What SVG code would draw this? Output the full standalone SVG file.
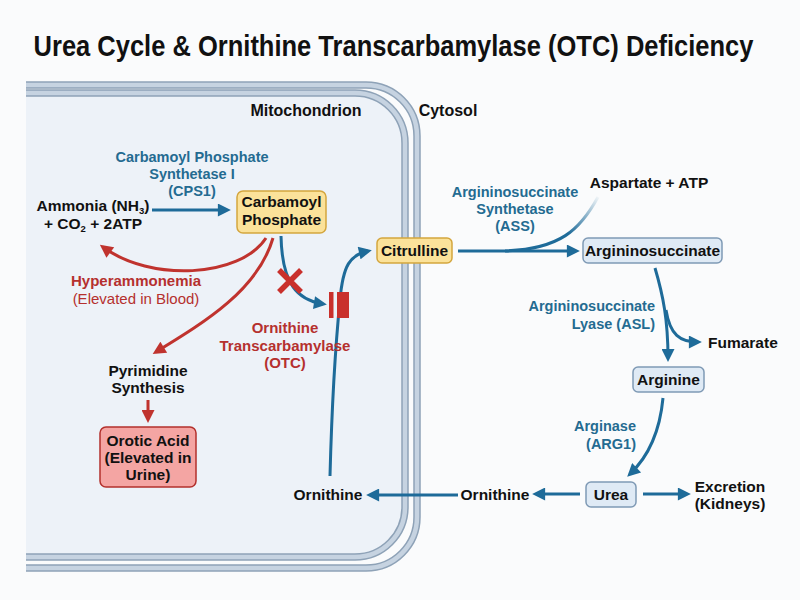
<svg xmlns="http://www.w3.org/2000/svg" width="800" height="600" viewBox="0 0 800 600">
<defs>
<style>
text{font-family:"Liberation Sans",Arial,sans-serif;font-weight:bold;fill:#111;}
.t{font-size:15.5px;text-anchor:middle;}
.enz{font-size:14.5px;fill:#246b91;text-anchor:middle;}
.red{font-size:15px;fill:#b5302e;text-anchor:middle;}
.yel{fill:#fbe29a;stroke:#d4a63e;stroke-width:1.5;}
.blu{fill:#dfeaf5;stroke:#7f9ab5;stroke-width:1.5;}
.pink{fill:#f4a5a3;stroke:#b3302c;stroke-width:1.5;}
.ab{fill:none;stroke:#1e6b99;stroke-width:3;marker-end:url(#mb);}
.ar{fill:none;stroke:#c0332e;stroke-width:3;marker-end:url(#mr);}
</style>
<marker id="mb" viewBox="0 0 10 10" refX="7" refY="5" markerWidth="15" markerHeight="13" markerUnits="userSpaceOnUse" orient="auto"><path d="M0,0 L10,5 L0,10 z" fill="#1e6b99"/></marker>
<marker id="mr" viewBox="0 0 10 10" refX="7" refY="5" markerWidth="15" markerHeight="13" markerUnits="userSpaceOnUse" orient="auto"><path d="M0,0 L10,5 L0,10 z" fill="#c0332e"/></marker>
<linearGradient id="g1" gradientUnits="userSpaceOnUse" x1="152" y1="0" x2="195" y2="0"><stop offset="0" stop-color="#1e6b99" stop-opacity="0"/><stop offset="1" stop-color="#1e6b99"/></linearGradient>
<linearGradient id="g2" gradientUnits="userSpaceOnUse" x1="266" y1="238" x2="215" y2="265"><stop offset="0" stop-color="#c0332e" stop-opacity="0.05"/><stop offset="1" stop-color="#c0332e"/></linearGradient>
<linearGradient id="g3" gradientUnits="userSpaceOnUse" x1="0" y1="238" x2="0" y2="290"><stop offset="0" stop-color="#c0332e" stop-opacity="0.05"/><stop offset="1" stop-color="#c0332e"/></linearGradient>
<linearGradient id="g4" gradientUnits="userSpaceOnUse" x1="0" y1="236" x2="0" y2="262"><stop offset="0" stop-color="#1e6b99" stop-opacity="0.1"/><stop offset="1" stop-color="#1e6b99"/></linearGradient>
<linearGradient id="g5" gradientUnits="userSpaceOnUse" x1="0" y1="476" x2="0" y2="420"><stop offset="0" stop-color="#1e6b99" stop-opacity="0.05"/><stop offset="1" stop-color="#1e6b99"/></linearGradient>
<linearGradient id="g6" gradientUnits="userSpaceOnUse" x1="458" y1="0" x2="505" y2="0"><stop offset="0" stop-color="#1e6b99" stop-opacity="0.05"/><stop offset="1" stop-color="#1e6b99"/></linearGradient>
<linearGradient id="g7" gradientUnits="userSpaceOnUse" x1="598" y1="197" x2="570" y2="235"><stop offset="0" stop-color="#1e6b99" stop-opacity="0.05"/><stop offset="1" stop-color="#1e6b99"/></linearGradient>
<linearGradient id="g8" gradientUnits="userSpaceOnUse" x1="0" y1="268" x2="0" y2="295"><stop offset="0" stop-color="#1e6b99" stop-opacity="0.1"/><stop offset="1" stop-color="#1e6b99"/></linearGradient>
<linearGradient id="g9" gradientUnits="userSpaceOnUse" x1="0" y1="398" x2="0" y2="430"><stop offset="0" stop-color="#1e6b99" stop-opacity="0.05"/><stop offset="1" stop-color="#1e6b99"/></linearGradient>
<linearGradient id="g10" gradientUnits="userSpaceOnUse" x1="643" y1="0" x2="672" y2="0"><stop offset="0" stop-color="#1e6b99" stop-opacity="0.1"/><stop offset="1" stop-color="#1e6b99"/></linearGradient>
<linearGradient id="g11" gradientUnits="userSpaceOnUse" x1="580" y1="0" x2="552" y2="0"><stop offset="0" stop-color="#1e6b99" stop-opacity="0.1"/><stop offset="1" stop-color="#1e6b99"/></linearGradient>
<linearGradient id="g12" gradientUnits="userSpaceOnUse" x1="458" y1="0" x2="400" y2="0"><stop offset="0" stop-color="#1e6b99" stop-opacity="0.05"/><stop offset="1" stop-color="#1e6b99"/></linearGradient>
</defs>
<rect width="800" height="600" fill="#fafbfc"/>
<text transform="translate(393.5,56) scale(1,1.17)" x="0" y="0" font-size="25.5" text-anchor="middle">Urea Cycle &amp; Ornithine Transcarbamylase (OTC) Deficiency</text>

<g id="mitochondrion">
<path d="M26,93 H355 A50,50 0 0 1 405,143 V507 A50,50 0 0 1 355,557 H26 Z" fill="#edf2f8"/>
<path d="M26,85 H366 A51,51 0 0 1 417,136 V517 A51,51 0 0 1 366,568 H26" fill="none" stroke="#8ea2b7" stroke-width="7.5"/>
<path d="M26,85 H366 A51,51 0 0 1 417,136 V517 A51,51 0 0 1 366,568 H26" fill="none" stroke="#c6d3e1" stroke-width="4.5"/>
<path d="M26,93 H355 A50,50 0 0 1 405,143 V507 A50,50 0 0 1 355,557 H26" fill="none" stroke="#8ea2b7" stroke-width="7.5"/>
<path d="M26,93 H355 A50,50 0 0 1 405,143 V507 A50,50 0 0 1 355,557 H26" fill="none" stroke="#c6d3e1" stroke-width="4.5"/>
<text x="306" y="116" font-size="16" text-anchor="middle">Mitochondrion</text>
<text x="448" y="116" font-size="16" text-anchor="middle">Cytosol</text>
</g>

<g id="connectors">
<path class="ab" d="M152,210 H227" stroke="url(#g1)"/>
<path class="ar" d="M266,238 C240,278 150,282 103,247" stroke="url(#g2)"/>
<path class="ar" d="M273,238 C258,290 205,322 156,352" stroke="url(#g3)"/>
<path class="ab" d="M281,236 C282,285 298,300 323,304" stroke="url(#g4)"/>
<path class="ab" d="M330,476 C332,400 336,340 340,300 C343,265 350,255 368,251" stroke="url(#g5)"/>
<path class="ab" d="M458,251 H576" stroke="url(#g6)"/>
<path d="M598,197 C580,230 560,249 505,251" fill="none" stroke="url(#g7)" stroke-width="3"/>
<path class="ab" d="M655,268 C663,295 668,320 668,358" stroke="url(#g8)"/>
<path class="ab" d="M666,310 C670,335 680,342 698,342"/>
<path class="ab" d="M663,398 C660,430 650,455 630,474" stroke="url(#g9)"/>
<path class="ab" d="M643,494 H687" stroke="url(#g10)"/>
<path class="ab" d="M580,494 H536" stroke="url(#g11)"/>
<path class="ab" d="M458,495 H370" stroke="url(#g12)"/>
<path class="ar" d="M148,400 V419"/>
</g>

<g id="otc-block">
<path d="M279,270 L301,292 M301,270 L279,292" stroke="#c9302c" stroke-width="5.5" stroke-linecap="butt"/>
<rect x="329" y="292" width="4.5" height="26" fill="#c9302c"/>
<rect x="337" y="292" width="12" height="26" fill="#c9302c"/>
<text class="red" x="285" y="333">Ornithine</text>
<text class="red" x="285" y="351">Transcarbamylase</text>
<text class="red" x="285" y="368">(OTC)</text>
</g>

<g id="cps1-label">
<text class="enz" x="192" y="162">Carbamoyl Phosphate</text>
<text class="enz" x="192" y="179">Synthetase I</text>
<text class="enz" x="192" y="196">(CPS1)</text>
</g>

<g id="ammonia">
<text class="t" x="93" y="211">Ammonia (NH<tspan font-size="9.5" dy="2.5">3</tspan><tspan dy="-2.5">)</tspan></text>
<text class="t" x="93" y="229">+ CO<tspan font-size="9.5" dy="2.5">2</tspan><tspan dy="-2.5"> + 2ATP</tspan></text>
</g>

<g id="carbamoyl-phosphate">
<rect class="yel" x="237" y="191" width="89" height="42" rx="6"/>
<text class="t" x="281.5" y="207">Carbamoyl</text>
<text class="t" x="281.5" y="225">Phosphate</text>
</g>

<g id="hyperammonemia">
<text class="red" x="136" y="286">Hyperammonemia</text>
<text class="red" x="136" y="304" style="font-weight:normal">(Elevated in Blood)</text>
</g>

<g id="pyrimidine">
<text class="t" x="148" y="376">Pyrimidine</text>
<text class="t" x="148" y="393">Synthesis</text>
</g>

<g id="orotic-acid">
<rect class="pink" x="100" y="427" width="96" height="60" rx="6"/>
<text class="t" x="148" y="446">Orotic Acid</text>
<text class="t" x="148" y="463">(Elevated in</text>
<text class="t" x="148" y="480">Urine)</text>
</g>

<g id="citrulline">
<rect class="yel" x="377" y="238" width="75" height="25" rx="5"/>
<text class="t" x="414.5" y="256">Citrulline</text>
</g>

<g id="ass-label">
<text class="enz" x="515" y="197">Argininosuccinate</text>
<text class="enz" x="515" y="214">Synthetase</text>
<text class="enz" x="515" y="231">(ASS)</text>
</g>

<g id="aspartate">
<text class="t" x="649" y="188">Aspartate + ATP</text>
</g>

<g id="argininosuccinate">
<rect class="blu" x="583" y="238" width="139" height="25" rx="5"/>
<text class="t" x="652.5" y="256">Argininosuccinate</text>
</g>

<g id="asl-label">
<text class="enz" x="655" y="311" style="text-anchor:end">Argininosuccinate</text>
<text class="enz" x="655" y="329" style="text-anchor:end">Lyase (ASL)</text>
</g>

<g id="fumarate">
<text class="t" x="708" y="348" style="text-anchor:start">Fumarate</text>
</g>

<g id="arginine">
<rect class="blu" x="633" y="367" width="71" height="25" rx="5"/>
<text class="t" x="668.5" y="385">Arginine</text>
</g>

<g id="arginase-label">
<text class="enz" x="636" y="431" style="text-anchor:end">Arginase</text>
<text class="enz" x="636" y="449" style="text-anchor:end">(ARG1)</text>
</g>

<g id="urea">
<rect class="blu" x="586" y="482" width="50" height="25" rx="5"/>
<text class="t" x="611" y="500">Urea</text>
</g>

<g id="excretion">
<text class="t" x="730" y="492">Excretion</text>
<text class="t" x="730" y="509">(Kidneys)</text>
</g>

<g id="ornithine-cytosol">
<text class="t" x="495" y="500">Ornithine</text>
</g>

<g id="ornithine-mito">
<text class="t" x="328" y="500">Ornithine</text>
</g>
</svg>
